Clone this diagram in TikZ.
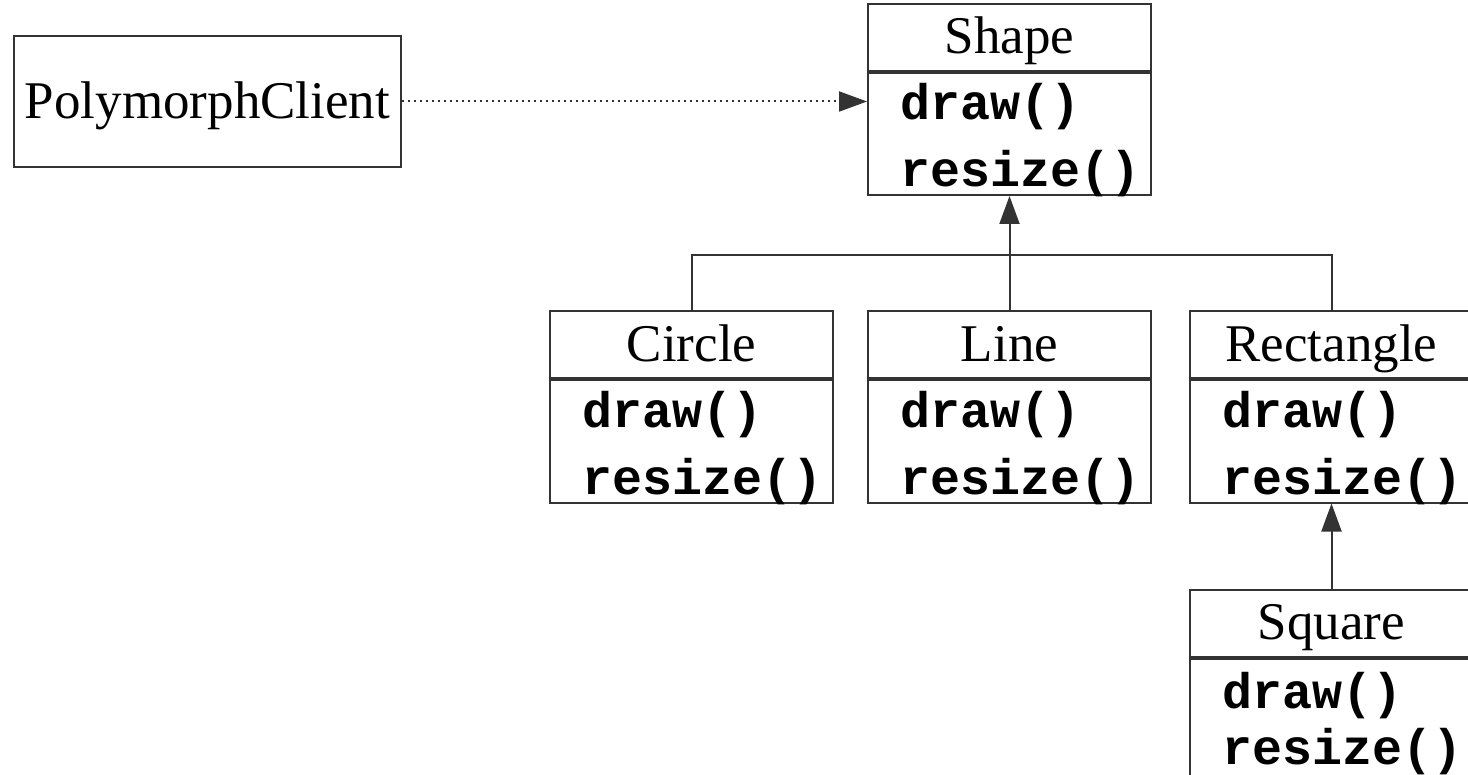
\documentclass[tikz,border=0pt]{standalone}
\usepackage{fontspec}
\setmainfont{Liberation Serif}
\setmonofont{Liberation Mono}
\usetikzlibrary{positioning, arrows.meta}

\begin{document}
\begin{tikzpicture}[
        x=0.5pt, y=-0.5pt,
        % Styles
        box/.style={draw=black!80, line width=1pt},
        clsname/.style={box, minimum width=141.5pt, minimum height=33.5pt, inner sep=0pt, text height=19.5pt, text depth=3pt, font=\fontsize{26.5}{30}\selectfont},
        clsops/.style={box, minimum width=141.5pt, minimum height=61pt, inner xsep=16pt, inner ysep=0pt, text width=109.5pt, text height=10pt, text depth=24pt, align=left, font=\fontsize{25}{33.5}\selectfont\ttfamily\bfseries},
        client/.style={box, minimum width=193.5pt, minimum height=65.5pt, inner sep=0pt, text height=20pt, text depth=2.5pt, font=\fontsize{26.5}{30}\selectfont},
        inherit/.style={draw=black!80, line width=1pt, -{Triangle[length=14pt, width=10pt]}},
        uses/.style={draw=black!80, line width=1pt, dotted, -{Triangle[length=14pt, width=10pt]}},
    ]
        \useasboundingbox (0,0) rectangle (1468,775);

        % === Client ===
        \node[client] (client) at (207.5,101.5) {PolymorphClient};

        % === Base class ===
        \node[clsname] (shapeT) at (1009.5,37.5) {Shape};
        \node[clsops, below=0pt of shapeT] (shapeM) {draw()\\resize()};

        % === Derived classes ===
        \node[clsname] (circleT) at (691.5,345) {Circle};
        \node[clsops, below=0pt of circleT] (circleM) {draw()\\resize()};

        \node[clsname] (lineT) at (1009.5,345) {Line};
        \node[clsops, below=0pt of lineT] (lineM) {draw()\\resize()};

        \node[clsname] (rectT) at (1331.5,345) {Rectangle};
        \node[clsops, below=0pt of rectT] (rectM) {draw()\\resize()};

        % Square sits at the page bottom, tighter lines
        \node[clsname] (squareT) at (1331.5,623) {Square};
        \node[clsops, below=0pt of squareT, text depth=21pt, font=\fontsize{25}{28}\selectfont\ttfamily\bfseries] (squareM) {draw()\\resize()};

        % === Connectors ===
        \draw[uses] (client.east) -- (client.east -| shapeM.west);

        \coordinate (bus) at (1009.5,255);
        \draw[box] (circleT.north) |- (bus) -| (rectT.north);
        \draw[inherit] (lineT.north) -- (shapeM.south);
        \draw[inherit] (squareT.north) -- (rectM.south);

    \end{tikzpicture}
\end{document}
